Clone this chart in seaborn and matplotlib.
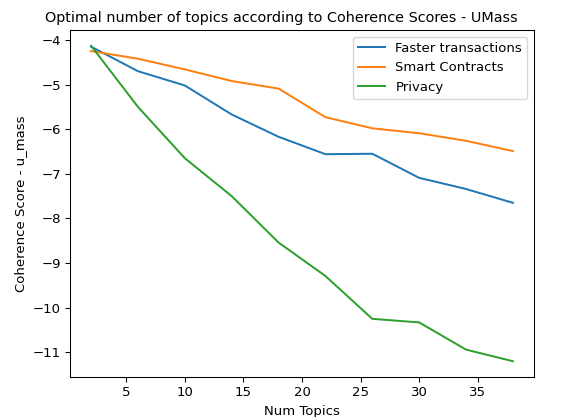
import matplotlib
matplotlib.use("Agg")
import matplotlib.pyplot as plt
import seaborn as sns
import pandas as pd

num_topics = [2, 6, 10, 14, 18, 22, 26, 30, 34, 38]
faster_transactions = [-4.15, -4.70, -5.02, -5.67, -6.17, -6.56, -6.55, -7.09, -7.34, -7.65]
smart_contracts = [-4.25, -4.42, -4.66, -4.92, -5.09, -5.73, -5.98, -6.09, -6.26, -6.49]
privacy = [-4.13, -5.50, -6.65, -7.50, -8.54, -9.29, -10.25, -10.33, -10.94, -11.20]
series_names = ["Faster transactions", "Smart Contracts", "Privacy"]

df = pd.concat([
    pd.DataFrame({"Num Topics": num_topics, "score": vals, "topic": name})
    for name, vals in zip(series_names, [faster_transactions, smart_contracts, privacy])
])

DPI = 95
plt.rcParams["font.family"] = ["DejaVu Sans"]
fig = plt.figure(figsize=(561 / DPI, 417 / DPI), dpi=DPI)
ax = fig.add_axes([70 / 561, 1 - 377 / 417, (534 - 70) / 561, (377 - 30) / 417])

palette = ["#1f77b4", "#ff7f0e", "#2ca02c"]
sns.lineplot(data=df, x="Num Topics", y="score", hue="topic", hue_order=series_names,
             palette=palette, linewidth=1.5, ax=ax)

ax.set_xlabel("Num Topics", fontsize=10)
ax.set_ylabel("Coherence Score - u_mass", fontsize=10)
ax.set_title("Optimal number of topics according to Coherence Scores - UMass",
             fontsize=10.9, x=(281 - 70) / 464)
ax.set_xticks([5, 10, 15, 20, 25, 30, 35])
ax.set_yticks([-4, -5, -6, -7, -8, -9, -10, -11])
ax.tick_params(labelsize=10)
handles, labels = ax.get_legend_handles_labels()
ax.legend(handles, labels, loc="upper right", fontsize=10)
for s in ax.spines.values():
    s.set_linewidth(0.8)

fig.savefig("out.png", dpi=DPI)
